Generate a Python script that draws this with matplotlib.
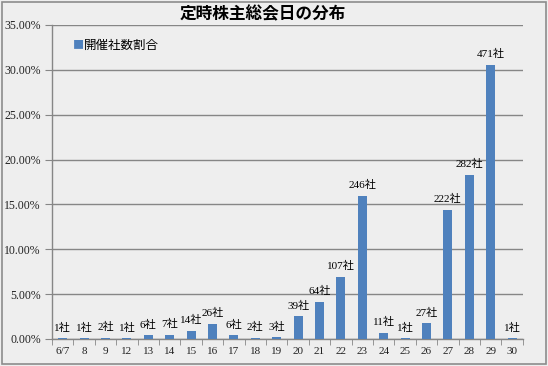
import matplotlib
matplotlib.use("Agg")
import matplotlib.pyplot as plt
from matplotlib.patches import Rectangle
import numpy as np

categories = ["6/7", "8", "9", "12", "13", "14", "15", "16", "17", "18", "19",
              "20", "21", "22", "23", "24", "25", "26", "27", "28", "29", "30"]
counts = [1, 1, 2, 1, 6, 7, 14, 26, 6, 2, 3, 39, 64, 107, 246, 11, 1, 27, 222, 282, 471, 1]
yticks = [0, 5, 10, 15, 20, 25, 30, 35]

total = sum(counts)
shares = [c / total * 100 for c in counts]

plt.rcParams['font.family'] = ['Noto Sans CJK JP', 'DejaVu Sans']
serif = ['Liberation Serif', 'Noto Sans CJK JP']

bg = '#EEEEEE'
grid_c = '#868686'
bar_c = '#4F81BD'

fig = plt.figure(figsize=(5.48, 3.66), dpi=100, facecolor=bg)
fig.patches.append(Rectangle((0.004, 0.006), 0.992, 0.988, transform=fig.transFigure,
                             fill=False, edgecolor='#8C8C8C', lw=1.2))
ax = fig.add_axes([0.0949, 0.0738, 0.859, 0.858])
ax.set_facecolor(bg)

x = np.arange(len(categories))
ax.bar(x, shares, width=0.42, color=bar_c, zorder=3)
for xi, s, c in zip(x, shares, counts):
    ax.annotate(f"{c}社", (xi, s), xytext=(0, 4), textcoords='offset points',
                ha='center', va='bottom', fontsize=8, family=serif, color='black')

ax.set_xlim(-0.5, len(categories) - 0.5)
ax.set_ylim(0, 35)
ax.set_yticks(yticks)
ax.set_yticklabels([f"{v:.2f}%" for v in yticks], family=serif, fontsize=8.5, color='#222222')
ax.set_xticks(x)
ax.set_xticklabels(categories, family=serif, fontsize=8, color='#222222')
ax.set_xticks(np.arange(-0.5, len(categories)), minor=True)
ax.tick_params(axis='x', which='major', length=0, pad=6)
ax.tick_params(axis='x', which='minor', length=4, color=grid_c, direction='out')
ax.tick_params(axis='y', length=5, color=grid_c, direction='out', pad=3)
ax.yaxis.grid(True, color=grid_c, lw=1, zorder=0)
for side in ['top', 'right']:
    ax.spines[side].set_visible(False)
for side in ['left', 'bottom']:
    ax.spines[side].set_color(grid_c)
    ax.spines[side].set_linewidth(1)

fig.text(0.48, 0.960, "定時株主総会日の分布", ha='center', va='center',
         fontsize=12, fontweight='bold', color='black')
ax.text(0.045, 0.935, "■", transform=ax.transAxes, color=bar_c, fontsize=8, va='center', ha='left')
ax.text(0.068, 0.935, "開催社数割合", transform=ax.transAxes, color='black', fontsize=9, va='center', ha='left')

fig.savefig("out.png", dpi=100, facecolor=bg)
